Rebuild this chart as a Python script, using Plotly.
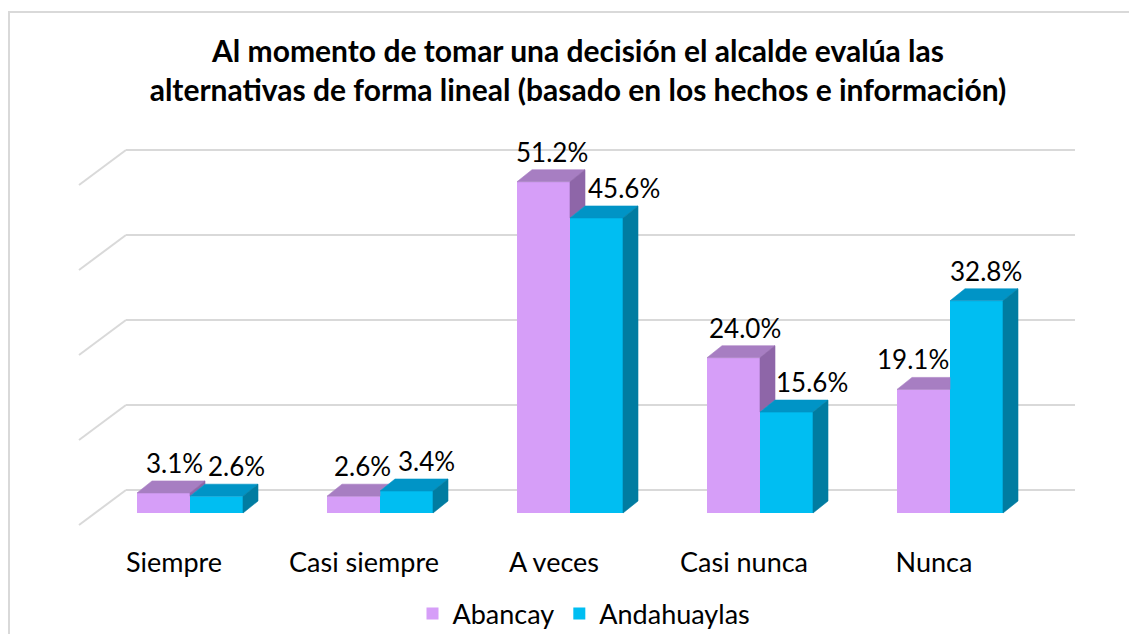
import plotly.graph_objects as go

# ---------------- data ----------------
categories = ["Siempre", "Casi siempre", "A veces", "Casi nunca", "Nunca"]
abancay = [3.1, 2.6, 51.2, 24.0, 19.1]
andahuaylas = [2.6, 3.4, 45.6, 15.6, 32.8]
series_names = ["Abancay", "Andahuaylas"]
grid_levels = [0, 15, 30, 45, 60]
title_text = ("Al momento de tomar una decisión el alcalde evalúa las<br>"
              "alternativas de forma lineal (basado en los hechos e información)")

# ---------------- geometry / style ----------------
PAGE_OFF = 8                     # default body margin of the html page
W, H = 1137 - PAGE_OFF, 634 - PAGE_OFF


def fx(px):   # page pixel -> figure pixel
    return px - PAGE_OFF


L = fx(78)
T = fx(140)
PLOT_R = fx(1075)
PLOT_B = fx(530)
R = W - PLOT_R
B = H - PLOT_B
PLOT_W = PLOT_R - L
PLOT_H = PLOT_B - T
CAT_PX = 190.0          # pixels per category
X0_PX = fx(190.0)       # pixel of first category centre
Y0_PX = fx(513.0)       # pixel of value 0 on front plane
PX_PER_UNIT = 6.47      # pixels per percent on front plane

xr = [(L - X0_PX) / CAT_PX, (PLOT_R - X0_PX) / CAT_PX]
yr = [(Y0_PX - PLOT_B) / PX_PER_UNIT, (Y0_PX - T) / PX_PER_UNIT]

BW = 53 / CAT_PX                 # bar width in x units
DX = 15 / CAT_PX                 # depth offset x
DY = 12 / PX_PER_UNIT            # depth offset y
K = DY / DX

P_FRONT, P_TOP, P_SIDE = "#D69EF8", "#A77EC2", "#8E66A8"
C_FRONT, C_TOP, C_SIDE = "#00BEF2", "#0094C6", "#007CA1"
GRID = "#D9D9D9"
FONT = "Lato"

fig = go.Figure()

xs = list(range(len(categories)))
fig.add_trace(go.Bar(x=xs, y=abancay, name=series_names[0], width=BW, offset=-BW,
                     marker=dict(color=P_FRONT, line=dict(width=0))))
fig.add_trace(go.Bar(x=xs, y=andahuaylas, name=series_names[1], width=BW, offset=0,
                     marker=dict(color=C_FRONT, line=dict(width=0))))

# 3D faces
pt_x, pt_y, ps_x, ps_y, ct_x, ct_y, cs_x, cs_y = [], [], [], [], [], [], [], []
for i, (vp, vc) in enumerate(zip(abancay, andahuaylas)):
    if vp >= vc:
        px_ = [i - BW, i, i + DX, i - BW + DX, i - BW]
        py_ = [vp, vp, vp + DY, vp + DY, vp]
        ps_x += [i, i, i + DX, i + DX, i, None]
        ps_y += [vc, vp, vp + DY, vc + DY, vc, None]
    elif vc < vp + DY:
        px_ = [i - BW, i, i, i + (vp + DY - vc) / K, i - BW + DX, i - BW]
        py_ = [vp, vp, vc, vp + DY, vp + DY, vp]
    else:
        px_ = [i - BW, i, i, i - BW + DX, i - BW]
        py_ = [vp, vp, vp + DY, vp + DY, vp]
    pt_x += px_ + [None]
    pt_y += py_ + [None]
    ct_x += [i, i + BW, i + BW + DX, i + DX, i, None]
    ct_y += [vc, vc, vc + DY, vc + DY, vc, None]
    cs_x += [i + BW, i + BW, i + BW + DX, i + BW + DX, i + BW, None]
    cs_y += [0, vc, vc + DY, DY, 0, None]

for fxs, fys, col in [(pt_x, pt_y, P_TOP), (ps_x, ps_y, P_SIDE),
                      (ct_x, ct_y, C_TOP), (cs_x, cs_y, C_SIDE)]:
    fig.add_trace(go.Scatter(x=fxs, y=fys, fill="toself", fillcolor=col, mode="lines",
                             line=dict(color=col, width=0.6), showlegend=False,
                             hoverinfo="skip"))

# gridlines on back wall + floor diagonals
WALL_OFF = 23 / PX_PER_UNIT
WALL_SCALE = (85 / 15) / PX_PER_UNIT
back_left = (fx(126) - X0_PX) / CAT_PX
front_left = (fx(79) - X0_PX) / CAT_PX
FLOOR_DY = 35 / PX_PER_UNIT
shapes = []
for g in grid_levels:
    yb = WALL_OFF + g * WALL_SCALE
    shapes.append(dict(type="line", xref="x", yref="y", x0=back_left, x1=xr[1], y0=yb, y1=yb,
                       line=dict(color=GRID, width=2), layer="below"))
    shapes.append(dict(type="line", xref="x", yref="y", x0=front_left, x1=back_left,
                       y0=yb - FLOOR_DY, y1=yb, line=dict(color=GRID, width=2), layer="below"))

# chart border
shapes.append(dict(type="rect", xref="paper", yref="paper",
                   x0=(fx(9) - L) / PLOT_W, x1=(W + 10 - L) / PLOT_W,
                   y0=(PLOT_B - (H + 10)) / PLOT_H, y1=(PLOT_B - fx(12)) / PLOT_H,
                   line=dict(color=GRID, width=2), layer="below"))

# data labels
p_shift = [11, 9, 8, 11, -11]
c_shift = [20, 20, 27, 25, 9]
annotations = []
for i, (vp, vc) in enumerate(zip(abancay, andahuaylas)):
    for v, cx, sh in [(vp, i - BW / 2, p_shift[i]), (vc, i + BW / 2, c_shift[i])]:
        annotations.append(dict(x=cx, y=v + DY, xref="x", yref="y", text=f"{v:.1f}%",
                                showarrow=False, xanchor="center", yanchor="bottom",
                                xshift=sh, yshift=0,
                                font=dict(family=FONT, size=26, color="#000000")))

fig.update_layout(
    width=W, height=H,
    margin=dict(l=L, r=R, t=T, b=B, autoexpand=False),
    paper_bgcolor="white", plot_bgcolor="white",
    title=dict(text=title_text, x=(fx(578)) / W, xanchor="center", y=1 - fx(62) / H,
               yanchor="middle", yref="container",
               font=dict(family=FONT, size=30, color="#000000", weight="bold")),
    xaxis=dict(range=xr, tickmode="array", tickvals=xs, ticktext=categories,
               showgrid=False, zeroline=False, showline=False, ticks="",
               ticklabelshift=-16, ticklabelstandoff=14,
               tickfont=dict(family=FONT, size=27, color="#000000"), fixedrange=True),
    yaxis=dict(range=yr, showgrid=False, zeroline=False, showline=False,
               showticklabels=False, ticks="", fixedrange=True),
    barmode="overlay",
    showlegend=True,
    legend=dict(orientation="h", x=(fx(584) - L) / PLOT_W, xanchor="center",
                y=(PLOT_B - fx(614)) / PLOT_H, yanchor="middle",
                font=dict(family=FONT, size=27, color="#000000"),
                bgcolor="rgba(0,0,0,0)"),
    shapes=shapes,
    annotations=annotations,
)

fig.write_html("out.html")
